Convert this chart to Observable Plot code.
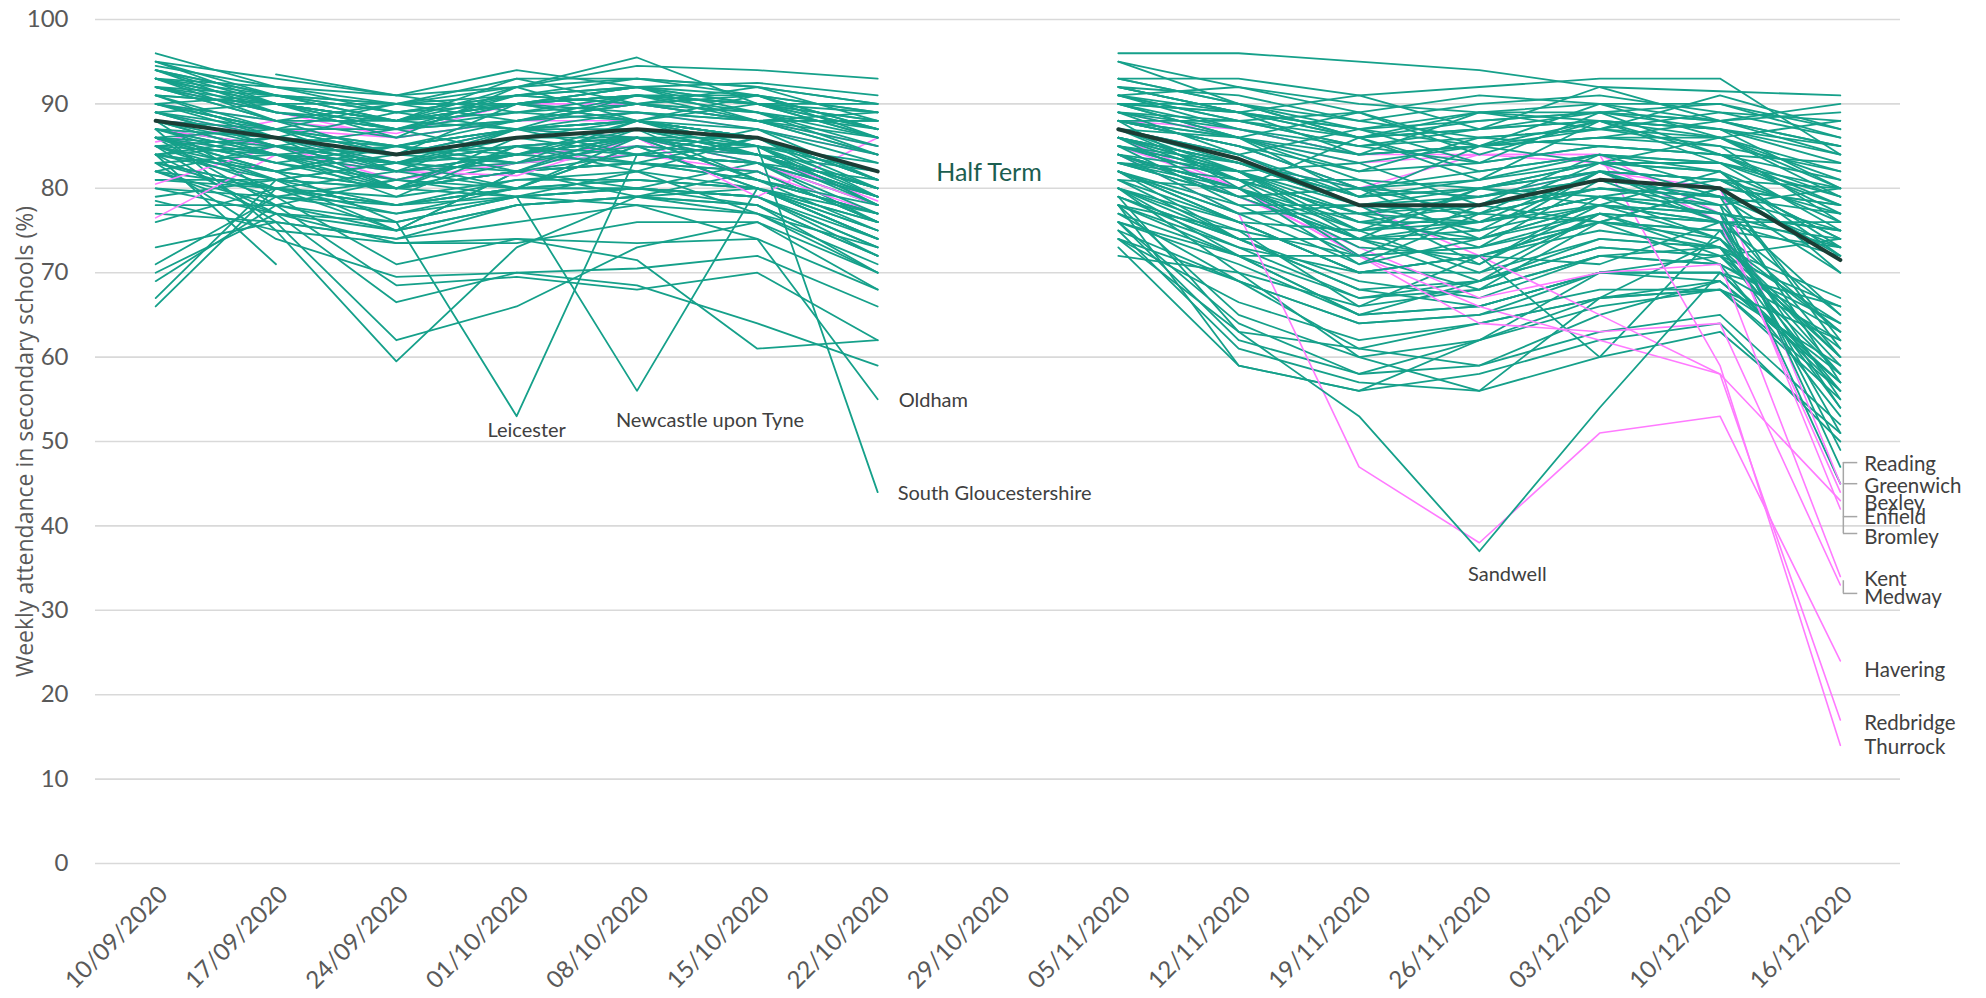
<!DOCTYPE html>
<html>
<head>
<meta charset="utf-8">
<script src="https://cdn.jsdelivr.net/npm/d3@7"></script>
<script src="https://cdn.jsdelivr.net/npm/@observablehq/plot@0.6"></script>
<style>
  html, body { margin: 0; padding: 0; background: #ffffff; }
  #chart svg { display: block; }
</style>
</head>
<body>
<div id="chart"></div>
<script>
// ---------- DATA ----------
const dates = ["10/09/2020","17/09/2020","24/09/2020","01/10/2020","08/10/2020","15/10/2020","22/10/2020","29/10/2020","05/11/2020","12/11/2020","19/11/2020","26/11/2020","03/12/2020","10/12/2020","16/12/2020"];
const yTicks = [0, 10, 20, 30, 40, 50, 60, 70, 80, 90, 100];

// England average (29/10/2020 is half term: no data)
const meanValues = [88, 86, 84, 86, 87, 86, 82, null, 87, 83.5, 78, 78, 81, 80, 71.5];

// Local authorities drawn in the lower layer (teal)
const tealLowerValues = [
  [81,80,78,80,81,80,75,null,81,76,70,70,74,73,54],
  [79,81,75,82,80,83,76,null,80,72,72,68,76,71,64],
  [82,78,76,79,80,79,74,null,79,74,68,69,73,72,58],
  [78,78,81,79,82,77,73,null,78,75,66,72,71,76,72],
  [80,77,75,78,79,78,72,null,77,72,67,68,72,71,53],
  [76,80,75,82,79,82,76,null,81,74,74,69,77,72,74],
  [73,76,74,78,79,77,71,null,79,74,69,67,72,73,60],
  [70,77,76,79,80,79,73,null,80,76,70,72,76,75,73],
  [66,80,78,81,81,80,74,null,82,78,72,73,77,76,65],
  [69,78,75,78,79,78,70,null,76,71,65,66,70,70,56],
  [71,79,78,80,80,78,72,null,78,73,67,69,73,72,61],
  [67,81,80,82,83,81,75,null,83,79,74,75,78,77,75],
  [77,76,74,76,78,77,70,null,75,69,64,65,70,69,57],
  [78.5,75,73.5,74,73.5,74,68,null,74,66.5,62,64,67,68,55],
  [82,77,73.5,73.5,76,76,68,null,78,72,65,66,70,70,66],
  [87,75,59.5,73,79,80,74,null,82,74,68,66,70,70,57],
  [85,76,62,66,73,76,70,null,78,65,60,62,66,68,56],
  [84,77,66.5,70,70.5,72,66,null,76,64,58,59,63,65,52],
  [86,78,68.5,69.5,68,70,62,null,75,61,57,56,60,63,51],
  [83,74,69.5,70,68.5,64,59,null,73,59,56,58,62,64,50],
  [88,79,71,74,71.5,61,62,null,76,62,58,62,67,69,58],
  [84,71,null,null,null,null,null,null,85,81,77,78,80,79,70],
  [null,93.5,91,89,90,88,84,null,90,87,84,85,86,85,82],
  [93,90,88,90,91,90,88,null,95,90,86,87,88,87,80],
  [80,79,77,80,80,79,72,null,72,70,66,68,72,71,63],
  [82,80,79,81,82,80,74,null,74,69,61,64,67,68,59],
  [81,81,80,82,83,82,76,null,76,72,65,69,74,73,67],
  [84,82,80,82,83,81,77,null,78,59,56,62,70,72,66],
  [85,82,80,83,84,83,78,null,80,70,60,56,67,74,60],
  [86,83,81,84,85,84,79,null,82,76,70,72,60,75,63],
  [83,80,78,80,81,80,75,null,79,63,61,59,65,69,57],
  [87,85,83,85,86,84,80,null,84,80,74,76,78,76,45]
];

// Local authorities drawn in the upper layer (teal)
const tealUpperValues = [
  [95,93,91,92,94.5,94,93,null,96,96,95,94,92,91.5,91],
  [96,92,89,91,92,92.5,91,null,95,92,90,89,90,90,86],
  [94,91,90,93,93,92,90,null,93,93,91,92,93,93,84],
  [93,90,88,92,95.5,90,88,null,92,91,88,90,91,89,88],
  [94.5,92,91,94,92,91,89,null,93,90,87,88,89,90,87],
  [92,89,87,90,91,90,90,null,91,92,89,91,90,88,89],
  [93,91,89,91,90,92,88,null,92,89,86,89,88,87,85],
  [95,90,90,92,93,91,87,null,91,88,85,87,89,88,84],
  [91,90,88,91,92,90,89,null,90,90,88,86,87,89,86],
  [92,88,84,90,88,91,86,null,89,84,87,83,89,84,83],
  [94,91,89,90,91,89,85,null,90,86,83,85,87,86,82],
  [90,91,88,93,90,91,87,null,92,89,91,87,92,88,90],
  [93,89,88,90,89,88,84,null,88,80,86,81,88,83,80],
  [91,90,87,91,93,92,90,null,91,89,87,85,86,88,85],
  [92,88,90,88,90,88,88,null,90,89,84,89,87,91,87],
  [94,89,87,88,90,89,86,null,89,88,85,83,85,84,78],
  [90,88,88,90,91,90,87,null,88,86,84,85,86,86,81],
  [93,92,90,91,90,88,85,null,93,90,86,82,84,83,75],
  [91,86,89,87,91,88,89,null,87,86,79,85,83,86,80],
  [92,90,88,90,92,89,84,null,92,89,87,89,89,87,83],
  [89,90,86,92,88,90,86,null,90,86,89,85,90,86,88],
  [94,90,88,89,91,90,87,null,88,85,80,82,84,82,72],
  [93,88,86,88,89,87,84,null,86,83,80,81,84,83,78],
  [90,87,90,90,92,88,88,null,91,88,89,84,88,84,81],
  [92,91,90,90,88,87,83,null,89,86,82,86,87,85,76],
  [95,91,88,87,89,88,86,null,87,82,78,80,83,82,70],
  [91,87,85,88,90,89,87,null,90,89,86,87,88,87,84],
  [93,90,87,89,88,86,82,null,91,87,84,85,88,86,79],
  [89,87,87,90,92,90,86,null,89,87,85,86,85,84,77],
  [92,89,87,88,91,91,89,null,88,88,86,88,89,88,85],
  [88,86,84,86,87,86,82,null,87,84,78,78,81,80,72],
  [86,83,85,82,87,84,80,null,86,79,80,74,82,77,75],
  [87,84,83,86,88,86,81,null,85,81,77,79,82,81,74],
  [85,86,85,87,86,84,79,null,84,80,75,76,79,78,65],
  [89,86,83,84,86,85,82,null,86,83,79,80,83,82,76],
  [84,86,80,85,83,86,80,null,83,81,72,78,76,80,62],
  [88,87,84,87,87,85,78,null,88,85,80,79,81,80,78],
  [86,82,84,83,86,81,77,null,85,78,78,71,79,74,58],
  [90,87,84,85,86,84,80,null,87,83,78,77,80,79,73],
  [87,84,85,84,88,85,83,null,86,82,83,78,84,80,78],
  [85,81,83,80,85,80,76,null,82,76,75,70,77,73,56],
  [88,86,85,87,88,86,81,null,88,86,81,80,82,81,80],
  [86,87,82,87,84,85,78,null,84,82,74,80,79,81,74],
  [89,85,82,84,86,85,79,null,85,82,77,76,79,77,60],
  [84,82,85,83,88,84,82,null,84,79,80,77,83,79,75],
  [87,83,80,82,84,83,77,null,83,79,74,74,77,76,55],
  [86,85,83,87,88,86,82,null,87,84,79,81,83,83,79],
  [90,86,82,83,85,84,78,null,84,80,73,72,76,75,54],
  [85,84,82,84,83,82,76,null,82,77,71,74,78,77,73],
  [88,84,81,84,86,85,80,null,86,83,78,79,81,79,77],
  [83,84,79,85,82,86,79,null,81,80,71,77,76,80,61],
  [87,86,84,86,86,84,80,null,85,82,76,74,78,76,51],
  [86,81,83,82,86,81,78,null,84,77,77,73,81,76,76],
  [82,85,80,86,84,87,81,null,83,82,75,80,78,82,73],
  [88,85,83,85,84,83,79,null,86,81,75,77,80,79,57],
  [85,80,82,80,86,83,81,null,82,77,78,75,82,78,80],
  [84,85,84,86,87,84,79,null,83,80,76,76,79,77,49],
  [89,85,87,84,87,81,77,null,87,81,81,76,82,76,74],
  [83,79,81,80,85,80,77,null,80,74,74,71,78,74,59],
  [86,84,83,85,86,86,82,null,85,83,79,80,82,81,77]
];

// Labelled local authorities (teal)
const namedTealNames = ["Leicester", "Newcastle upon Tyne", "Oldham", "South Gloucestershire", "Sandwell", "Reading"];
const namedTealValues = [
  [86,82,76,53,84,83,79,null,80,75,72,73,76,74,63],
  [88,84,80,79,56,80,76,null,79,73,70,72,75,73,64],
  [84,81,78,79,78,74,55,null,77,69,64,65,68,68,62],
  [90,87,85,87,88,85,44,null,88,85,82,83,85,84,79],
  [83,80,77,79,80,79,73,null,74,63,53,37,54,70,62],
  [88,86,84,87,88,86,81,null,86,82,76,78,80,78,47]
];

// London, Kent and Essex authorities (pink)
const pinkNames = ["Greenwich", "Bexley", "Enfield", "Bromley", "Kent", "Medway", "Havering", "Redbridge", "Thurrock"];
const pinkValues = [
  [88,87,86,88,89,87,84,null,88,85,80,79,82,80,45],
  [92,89,86,88,88,86,81,null,89,86,83,84,83,76,44],
  [85.5,88,84,87,86,79,86,null,86,80,72,66,62,58,43],
  [90,88,86.5,90,90,88,85,null,88,87,84,84,84,77,42],
  [86,84,82,81.5,86,83,79,null,84,79,73,67,70,71,34],
  [80.5,85,82,83,86,84,80,null,85,80,72,64,63,64,33],
  [89,86,83,85,86,83,78,null,84,77,47,38,51,53,24],
  [76.5,84,82,84,85,84,78.5,null,87,84,78,72,65,58,17],
  [87,85,81,83,84,82,77,null,86,83,80,84,84,59,14]
];

// right-hand label names (order top to bottom)
const rightLabelNames = ["Reading", "Greenwich", "Bexley", "Enfield", "Bromley", "Kent", "Medway", "Havering", "Redbridge", "Thurrock"];

// ---------- BUILD ROWS ----------
function toRows(name, vals) { return vals.map((v, i) => ({ name, i, v })); }
const lowerRows = tealLowerValues.flatMap((vals, k) => toRows("low" + k, vals));
const upperRows = tealUpperValues.flatMap((vals, k) => toRows("up" + k, vals));
const namedRows = namedTealValues.flatMap((vals, k) => toRows(namedTealNames[k], vals));
const pinkRows = pinkValues.flatMap((vals, k) => toRows(pinkNames[k], vals));
const meanRows = toRows("England", meanValues);

const TEAL = "#15a08a";
const PINK = "#ff7aff";
const lastIdx = dates.length - 1;

// annotation placement (label positions in value units on the right edge)
const rightLabelPos = [47.3, 44.7, 42.7, 41.0, 38.6, 33.6, 31.5, 22.9, 16.6, 13.7];
const rightLabels = rightLabelNames.map((t, k) => ({ t, i: lastIdx, v: rightLabelPos[k] }));

const valOf = (name, i) => namedTealValues[namedTealNames.indexOf(name)][i];

const chart = Plot.plot({
  width: 1986,
  height: 998,
  marginLeft: 95,
  marginRight: 86,
  marginTop: 19,
  marginBottom: 135,
  style: { fontFamily: "Lato, 'Open Sans', sans-serif", color: "#595959", background: "#ffffff", overflow: "visible" },
  x: { type: "linear", domain: [-0.5, 14.5] },
  y: { domain: [0, 100] },
  marks: [
    Plot.gridY(yTicks, { stroke: "#d9d9d9", strokeOpacity: 1, strokeWidth: 1.6 }),
    Plot.axisY(yTicks, { tickSize: 0, tickPadding: 27, fontSize: 24, label: null, fill: "#595959" }),
    Plot.axisX(d3.range(dates.length), { tickFormat: i => dates[i], tickRotate: -45, tickSize: 0, tickPadding: 27, dx: 8, fontSize: 24, label: null, fill: "#595959" }),
    Plot.text(["Weekly attendance in secondary schools (%)"], { frameAnchor: "left", textAnchor: "middle", dx: -70, rotate: -90, fontSize: 23, fontFamily: "'Open Sans', sans-serif", fill: "#595959" }),

    Plot.line(lowerRows, { x: "i", y: "v", z: "name", stroke: TEAL, strokeWidth: 1.8 }),
    Plot.line(pinkRows, { x: "i", y: "v", z: "name", stroke: PINK, strokeWidth: 1.6 }),
    Plot.line(upperRows, { x: "i", y: "v", z: "name", stroke: TEAL, strokeWidth: 1.8 }),
    Plot.line(namedRows, { x: "i", y: "v", z: "name", stroke: TEAL, strokeWidth: 1.8 }),
    Plot.line(meanRows, { x: "i", y: "v", stroke: "#1b3d35", strokeWidth: 4 }),

    // dip labels
    Plot.text([{ t: "Leicester", i: 3, v: valOf("Leicester", 3) }], { x: "i", y: "v", text: "t", dx: 10, dy: 14, fontSize: 20, fill: "#404040" }),
    Plot.text([{ t: "Newcastle upon Tyne", i: 4, v: valOf("Newcastle upon Tyne", 4) }], { x: "i", y: "v", text: "t", dx: 73, dy: 30, fontSize: 20, fill: "#404040" }),
    Plot.text([{ t: "Oldham", i: 6, v: valOf("Oldham", 6) }], { x: "i", y: "v", text: "t", dx: 21, dy: 1, textAnchor: "start", fontSize: 20, fill: "#404040" }),
    Plot.text([{ t: "South Gloucestershire", i: 6, v: valOf("South Gloucestershire", 6) }], { x: "i", y: "v", text: "t", dx: 20, dy: 1, textAnchor: "start", fontSize: 20, fill: "#404040" }),
    Plot.text([{ t: "Sandwell", i: 11, v: valOf("Sandwell", 11) }], { x: "i", y: "v", text: "t", dx: 28, dy: 23, fontSize: 20, fill: "#404040" }),
    Plot.text([{ t: "Half Term", i: 7, v: 82 }], { x: "i", y: "v", text: "t", dx: -9, dy: 2, fontSize: 25, fill: "#1b5e50" }),

    // right-hand leader brackets
    Plot.ruleX([{ i: lastIdx, a: 39.1, b: 47.5 }], { x: "i", y1: "a", y2: "b", dx: 3, stroke: "#a6a6a6", strokeWidth: 1.5 }),
    Plot.ruleY([47.5, 45.0, 41.1, 39.1].map(v => ({ v, a: lastIdx, b: lastIdx + 0.12 })), { y: "v", x1: "a", x2: "b", dx: 3, stroke: "#a6a6a6", strokeWidth: 1.5 }),
    Plot.ruleX([{ i: lastIdx, a: 32.0, b: 33.5 }], { x: "i", y1: "a", y2: "b", dx: 3, stroke: "#a6a6a6", strokeWidth: 1.5 }),
    Plot.ruleY([{ v: 32.0, a: lastIdx, b: lastIdx + 0.12 }], { y: "v", x1: "a", x2: "b", dx: 3, stroke: "#a6a6a6", strokeWidth: 1.5 }),
    Plot.text(rightLabels, { x: "i", y: "v", text: "t", textAnchor: "start", fontSize: 20.5, fill: "#404040", dx: 24 })
  ]
});
document.getElementById("chart").appendChild(chart);
</script>
</body>
</html>
